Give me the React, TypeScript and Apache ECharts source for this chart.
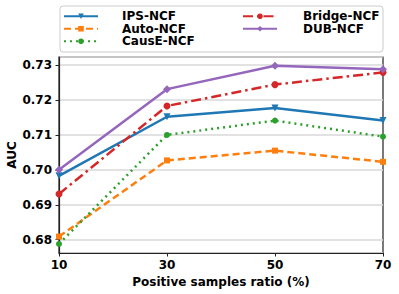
import React, { useEffect, useRef } from "react";
import * as echarts from "echarts";

const ratios = [10, 30, 50, 70];
const ipsNcf = [0.6983, 0.7152, 0.7177, 0.7141];
const autoNcf = [0.6809, 0.7027, 0.7055, 0.7023];
const causeNcf = [0.6788, 0.71, 0.7141, 0.7095];
const bridgeNcf = [0.6931, 0.7183, 0.7244, 0.7279];
const dubNcf = [0.7, 0.7231, 0.7298, 0.7288];
const xTicks = [10, 30, 50, 70];

const FONT = "DejaVu Sans";

export default function App() {
  const ref = useRef<HTMLDivElement>(null);
  useEffect(() => {
    if (!ref.current) return;
    document.body.style.margin = "0";
    const chart = echarts.init(ref.current, undefined, { renderer: "svg" });
    const pts = (arr: number[]) => ratios.map((r, i) => [r, arr[i]]);
    const mk = (
      name: string,
      data: number[],
      color: string,
      symbol: string,
      type: any,
      extra: any = {}
    ) => ({
      name,
      type: "line",
      data: pts(data),
      symbol,
      symbolSize: 7,
      showSymbol: true,
      itemStyle: { color },
      lineStyle: { color, width: 2.5, type },
      z: 3,
      ...extra,
    });
    const legendText = {
      fontFamily: FONT,
      fontWeight: "bold",
      fontSize: 12,
      color: "#000",
      padding: [0, 0, 0, 19],
      lineHeight: 12.5,
    };
    chart.setOption({
      animation: false,
      backgroundColor: "#fff",
      grid: {
        left: 59,
        right: 16,
        top: 57,
        bottom: 41,
        show: true,
        borderColor: "#222",
        borderWidth: 1.2,
        backgroundColor: "transparent",
        outerBoundsMode: "none",
        containLabel: false,
      },
      legend: [
        {
          data: ["IPS-NCF", "Auto-NCF", "CausE-NCF"],
          orient: "vertical",
          left: 63,
          top: 10,
          itemWidth: 34,
          itemHeight: 7,
          itemGap: 0,
          padding: 0,
          textStyle: legendText,
        },
        {
          data: ["Bridge-NCF", "DUB-NCF"],
          orient: "vertical",
          left: 242,
          top: 10,
          itemWidth: 34,
          itemHeight: 7,
          itemGap: 0,
          padding: 0,
          textStyle: { ...legendText, padding: [0, 0, 0, 21] },
        },
      ],
      graphic: [
        {
          type: "rect",
          shape: { x: 60, y: 6, width: 323, height: 46, r: 3 },
          style: { fill: "none", stroke: "#cccccc", lineWidth: 1 },
          silent: true,
        },
      ],
      xAxis: {
        type: "value",
        min: 10,
        max: 70,
        interval: 20,
        name: "Positive samples ratio (%)",
        nameLocation: "middle",
        nameGap: 23,
        nameMoveOverlap: false,
        nameTextStyle: { fontFamily: FONT, fontWeight: "bold", fontSize: 12, color: "#000" },
        axisLine: { lineStyle: { color: "#222", width: 1.2 } },
        axisTick: { show: true, length: 3.5, lineStyle: { color: "#222", width: 1 } },
        axisLabel: {
          fontFamily: FONT,
          fontWeight: "bold",
          fontSize: 12,
          color: "#000",
          margin: 6,
          customValues: xTicks,
        },
        splitLine: { show: false },
      },
      yAxis: {
        type: "value",
        min: 0.6762,
        max: 0.7323,
        splitNumber: 5,
        name: "AUC",
        nameLocation: "middle",
        nameGap: 41,
        nameMoveOverlap: false,
        nameTextStyle: { fontFamily: FONT, fontWeight: "bold", fontSize: 12, color: "#000" },
        axisLine: { show: true, lineStyle: { color: "#222", width: 1.2 } },
        axisTick: { show: true, length: 3.5, lineStyle: { color: "#222", width: 1 } },
        axisLabel: {
          fontFamily: FONT,
          fontWeight: "bold",
          fontSize: 12,
          color: "#000",
          margin: 7,
          showMinLabel: false,
          showMaxLabel: false,
          formatter: (v: number) => v.toFixed(2),
        },
        splitLine: { show: true, lineStyle: { color: "#d9d9d9", width: 1.5 } },
      },
      series: [
        mk("IPS-NCF", ipsNcf, "#1f77b4", "triangle", "solid", { symbolRotate: 180 }),
        mk("Auto-NCF", autoNcf, "#ff7f0e", "rect", [7, 4], { symbolSize: 6 }),
        mk("CausE-NCF", causeNcf, "#2ca02c", "circle", [2, 4], { symbolSize: 6 }),
        mk("Bridge-NCF", bridgeNcf, "#d62728", "circle", [10, 4, 2.5, 4]),
        mk("DUB-NCF", dubNcf, "#9467bd", "diamond", "solid", { symbolSize: 8 }),
      ],
    });
    return () => chart.dispose();
  }, []);
  return (
    <div
      ref={ref}
      style={{ width: 399, height: 294, position: "absolute", left: 0, top: 0 }}
    />
  );
}
